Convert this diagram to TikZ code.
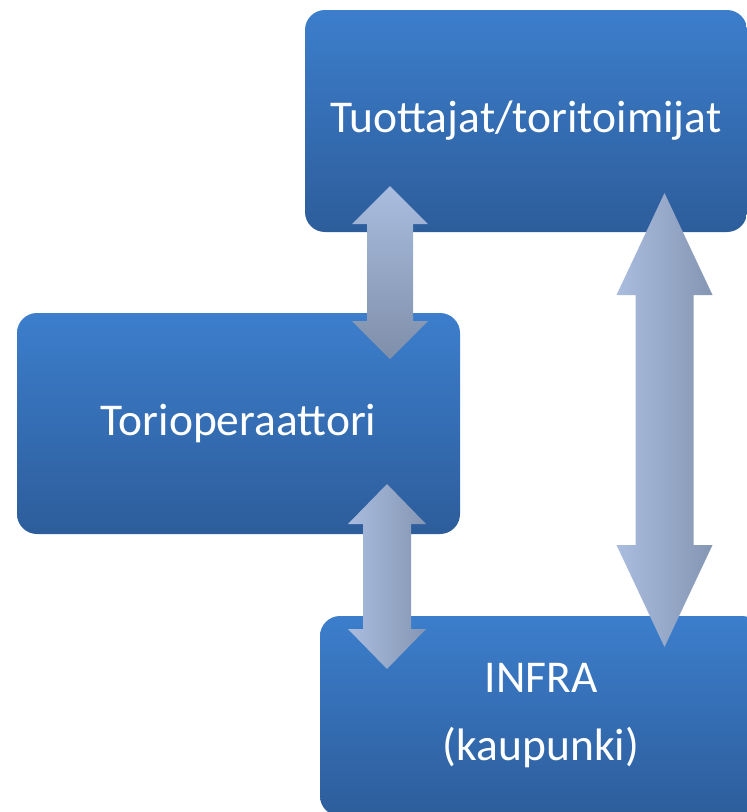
\documentclass[tikz,border=0pt]{standalone}
\usepackage{fontspec}
\setmainfont{Carlito}
\usetikzlibrary{calc}
\definecolor{boxtop}{HTML}{3C7ECC}
\definecolor{boxbot}{HTML}{2D5D9B}
\definecolor{arrlight}{HTML}{AABDDF}
\definecolor{arrdark}{HTML}{7F8FAA}
\definecolor{arrdarkh}{HTML}{8596B3}
\tikzset{
  blockbox/.style={rectangle, rounded corners=20pt, top color=boxtop, bottom color=boxbot,
    draw=none, text=white, inner sep=0pt, align=center,
    font=\fontsize{45.5}{68}\selectfont},
  arrowv/.style={top color=arrlight, bottom color=arrdark, draw=none},
  arrowh/.style={left color=arrlight, right color=arrdarkh, draw=none},
}
% #1 top tip, #2 bottom tip, #3 head half width, #4 shaft half width, #5 head length, #6 style
\newcommand\dblblockarrow[6]{%
  \path[#6] let \p1=(#1), \p2=(#2) in
   (\x1,\y1) -- (\x1+#3pt,\y1-#5pt) -- (\x1+#4pt,\y1-#5pt) -- (\x1+#4pt,\y2+#5pt)
   -- (\x1+#3pt,\y2+#5pt) -- (\x1,\y2) -- (\x1-#3pt,\y2+#5pt) -- (\x1-#4pt,\y2+#5pt)
   -- (\x1-#4pt,\y1-#5pt) -- (\x1-#3pt,\y1-#5pt) -- cycle;}
\begin{document}
\begin{tikzpicture}[x=1pt,y=-1pt]
\useasboundingbox (0,0) rectangle (747,812);
\clip (0,0) rectangle (747,812);
\node[blockbox, minimum width=442pt, minimum height=222pt] (prod) at (526,121) {Tuottajat/toritoimijat};
\node[blockbox, minimum width=443pt, minimum height=221pt] (oper) at (238.5,423.5) {Torioperaattori};
\node[blockbox, minimum width=442pt, minimum height=200pt] (infra) at (541,716) {INFRA\\(kaupunki)};
% connector end points
\coordinate (a1t) at (390,186);
\coordinate (a1b) at (390,359);
\coordinate (a2t) at (387,484);
\coordinate (a2b) at (387,669);
\coordinate (a3t) at (664.5,193);
\coordinate (a3b) at (664.5,647);
\dblblockarrow{a1t}{a1b}{38}{23}{38}{arrowv}
\dblblockarrow{a2t}{a2b}{39}{24}{40}{arrowh}
\dblblockarrow{a3t}{a3b}{48}{29}{102}{arrowh}
\end{tikzpicture}
\end{document}
